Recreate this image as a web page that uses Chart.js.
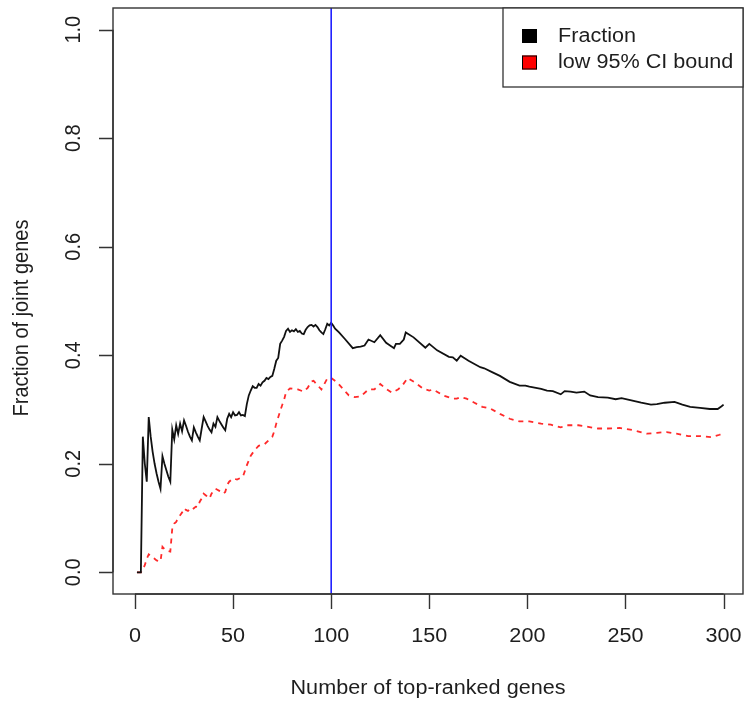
<!DOCTYPE html>
<html lang="en">
<head>
<meta charset="UTF-8">
<title>Fraction of joint genes</title>
<script src="https://cdn.jsdelivr.net/npm/chart.js"></script>
<style>
  body { margin: 0; background: #fff; }
  canvas { display: block; }
</style>
</head>
<body>
<canvas id="myChart" width="744" height="704"></canvas>
<script>
// values
const fracN = [1,2,3,4,5,6,7,8,9,10,11,12,13,14,15,16,17,18,19,20,
  21,22,23,24,25,26,27,28,29,30,31,32,33,34,35,36,37,38,39,40,
  41,42,43,44,45,46,47,48,49,50,51,52,53,54,55,56,57,58,59,60,
  61,62,63,64,65,66,67,68,69,70,71,72,73,74,75,76,77,78,79,80,
  81,82,83,84,85,86,87,88,89,90,91,92,93,94,95,96,97,98,99,100,
  101,102,104,107,111,113,115,117,119,122,125,128,132,133,135,137,138,142,148,150,
  154,160,162,164,166,170,176,178,182,186,191,196,199,201,203,207,210,213,217,219,
  222,225,229,232,236,241,245,248,253,258,263,266,270,275,279,283,288,293,297,299,300];
const fracVal = [0,0,0,0.25,0.2,0.167,0.286,0.25,0.222,0.2,0.182,0.167,0.154,0.214,0.2,0.188,0.176,0.167,0.263,0.245,
  0.271,0.255,0.274,0.26,0.28,0.27,0.259,0.25,0.243,0.267,0.258,0.25,0.243,0.265,0.286,0.278,0.27,0.263,0.258,0.274,
  0.268,0.286,0.279,0.273,0.267,0.262,0.283,0.292,0.286,0.295,0.289,0.29,0.295,0.289,0.29,0.288,0.31,0.326,0.335,0.343,
  0.34,0.34,0.347,0.344,0.35,0.353,0.358,0.356,0.36,0.362,0.375,0.39,0.395,0.421,0.427,0.434,0.445,0.449,0.443,0.446,
  0.444,0.448,0.443,0.445,0.44,0.439,0.447,0.452,0.455,0.456,0.453,0.456,0.452,0.446,0.442,0.439,0.448,0.458,0.455,0.46,
  0.455,0.449,0.442,0.43,0.413,0.415,0.416,0.418,0.429,0.424,0.437,0.423,0.413,0.421,0.421,0.429,0.442,0.433,0.414,0.421,
  0.409,0.397,0.396,0.39,0.399,0.39,0.378,0.376,0.369,0.362,0.351,0.344,0.344,0.342,0.341,0.338,0.335,0.334,0.328,0.334,
  0.333,0.331,0.333,0.326,0.323,0.322,0.319,0.321,0.317,0.3125,0.309,0.31,0.3125,0.314,0.309,0.305,0.303,0.301,0.301,0.306,0.309];

const ciN = [1,2,3,4,5,6,7,8,9,10,11,12,13,14,15,16,17,18,19,20,
  21,22,23,24,25,26,27,28,29,30,31,32,33,34,35,36,37,38,39,40,
  41,42,43,44,45,46,47,48,49,50,52,55,57,59,61,63,66,68,70,71,
  72,74,75,76,77,79,83,86,88,90,91,93,95,98,100,103,106,109,112,115,
  119,122,125,128,131,134,136,139,143,147,150,152,157,162,164,166,169,173,177,181,
  186,191,196,201,207,212,217,220,226,231,236,241,247,254,261,266,271,276,282,288,294,298,300];
const ciVal = [0,0,0,0.006,0.013,0.025,0.033,0.03,0.027,0.025,0.022,0.021,0.02,0.047,0.043,0.041,0.039,0.038,0.081,0.09,
  0.093,0.1,0.105,0.11,0.118,0.115,0.113,0.117,0.115,0.118,0.121,0.12,0.13,0.136,0.145,0.142,0.139,0.136,0.145,0.15,
  0.154,0.152,0.15,0.148,0.145,0.148,0.161,0.167,0.17,0.173,0.171,0.176,0.197,0.215,0.225,0.233,0.236,0.243,0.25,0.26,
  0.274,0.297,0.308,0.318,0.332,0.339,0.337,0.333,0.34,0.352,0.353,0.345,0.337,0.357,0.358,0.35,0.338,0.326,0.323,0.324,
  0.337,0.337,0.347,0.338,0.331,0.337,0.343,0.358,0.349,0.338,0.335,0.337,0.326,0.32,0.32,0.323,0.32,0.3125,0.305,0.302,
  0.292,0.283,0.278,0.278,0.274,0.272,0.267,0.271,0.271,0.268,0.265,0.265,0.266,0.262,0.2555,0.257,0.2585,0.2555,0.251,0.251,0.249,0.2535,0.257];

const xTicks = [0, 50, 100, 150, 200, 250, 300];
const yTicks = [0, 0.2, 0.4, 0.6, 0.8, 1.0];
const cutoff = 100;
const seriesNames = ['Fraction', 'low 95% CI bound'];
const xTitle = 'Number of top-ranked genes';
const yTitle = 'Fraction of joint genes';

const FONT = '20px "Liberation Sans", Arial, sans-serif';
const STRETCH = 1.08; // the reference is a little wider than tall

function toPoints(xs, ys) {
    return xs.map(function (n, i) { return { x: n, y: ys[i] }; });
}

// write text at (px, py), optionally turned upright
function label(ctx, text, px, py, turn) {
    ctx.save();
    ctx.translate(px, py);
    ctx.scale(STRETCH, 1);
    if (turn) ctx.rotate(-Math.PI / 2);
    ctx.fillText(text, 0, 0);
    ctx.restore();
}

// R style frame, axes, cutoff line and legend
const rStyle = {
    id: 'rStyle',
    afterDatasetsDraw(chart) {
        const ctx = chart.ctx;
        const a = chart.chartArea;
        const x = chart.scales.x;
        const y = chart.scales.y;
        ctx.save();

        // vertical cutoff line
        const cx = x.getPixelForValue(cutoff);
        ctx.strokeStyle = '#1f1fff';
        ctx.lineWidth = 1.6;
        ctx.beginPath();
        ctx.moveTo(cx, a.top);
        ctx.lineTo(cx, a.bottom);
        ctx.stroke();

        // box
        ctx.strokeStyle = '#333';
        ctx.lineWidth = 1.4;
        ctx.strokeRect(a.left, a.top, a.right - a.left, a.bottom - a.top);

        ctx.fillStyle = '#1e1e1e';
        ctx.font = FONT;

        // x axis
        ctx.beginPath();
        ctx.moveTo(x.getPixelForValue(xTicks[0]), a.bottom);
        ctx.lineTo(x.getPixelForValue(xTicks[xTicks.length - 1]), a.bottom);
        xTicks.forEach(function (v) {
            const px = Math.round(x.getPixelForValue(v)) + 0.5;
            ctx.moveTo(px, a.bottom);
            ctx.lineTo(px, a.bottom + 15);
        });
        ctx.stroke();
        ctx.textAlign = 'center';
        ctx.textBaseline = 'middle';
        xTicks.forEach(function (v) {
            label(ctx, String(v), x.getPixelForValue(v), a.bottom + 42, false);
        });
        label(ctx, xTitle, (a.left + a.right) / 2, a.bottom + 94, false);

        // y axis
        ctx.beginPath();
        ctx.moveTo(a.left, y.getPixelForValue(yTicks[0]));
        ctx.lineTo(a.left, y.getPixelForValue(yTicks[yTicks.length - 1]));
        yTicks.forEach(function (v) {
            const py = Math.round(y.getPixelForValue(v)) + 0.5;
            ctx.moveTo(a.left, py);
            ctx.lineTo(a.left - 14, py);
        });
        ctx.stroke();
        yTicks.forEach(function (v) {
            label(ctx, v.toFixed(1), a.left - 39, y.getPixelForValue(v), true);
        });
        label(ctx, yTitle, 22, (a.top + a.bottom) / 2 + 17, true);

        // legend
        const lx = 503, ly = a.top, lw = a.right - lx, lh = 79;
        ctx.fillStyle = '#fff';
        ctx.fillRect(lx, ly, lw, lh);
        ctx.strokeStyle = '#333';
        ctx.lineWidth = 1.3;
        ctx.strokeRect(lx, ly, lw, lh);
        ctx.textAlign = 'left';
        chart.data.datasets.forEach(function (ds, i) {
            const rowY = ly + 28 + i * 26.5;
            ctx.fillStyle = ds.legendFill;
            ctx.fillRect(522, rowY - 7, 15, 14);
            ctx.strokeStyle = '#000';
            ctx.lineWidth = 1;
            ctx.strokeRect(522.5, rowY - 6.5, 14, 13);
            ctx.fillStyle = '#1e1e1e';
            label(ctx, ds.label, 558, rowY, false);
        });

        ctx.restore();
    }
};

const config = {
    type: 'line',
    data: {
        datasets: [{
            label: seriesNames[0],
            data: toPoints(fracN, fracVal),
            borderColor: '#111',
            borderWidth: 1.8,
            legendFill: '#000',
            pointRadius: 0,
            tension: 0
        }, {
            label: seriesNames[1],
            data: toPoints(ciN, ciVal),
            borderColor: '#ff2a2a',
            borderWidth: 1.8,
            borderDash: [5, 5],
            legendFill: '#ff0000',
            pointRadius: 0,
            tension: 0
        }]
    },
    options: {
        responsive: false,
        animation: false,
        devicePixelRatio: 1,
        layout: { padding: { left: 113, right: 1, top: 8, bottom: 110 } },
        plugins: { legend: { display: false }, tooltip: { enabled: false } },
        scales: {
            x: { type: 'linear', min: -11.21, max: 309.9, display: false },
            y: { type: 'linear', min: -0.04, max: 1.04, display: false }
        }
    },
    plugins: [rStyle]
};

let myChart = new Chart(document.getElementById('myChart'), config);
</script>
</body>
</html>
